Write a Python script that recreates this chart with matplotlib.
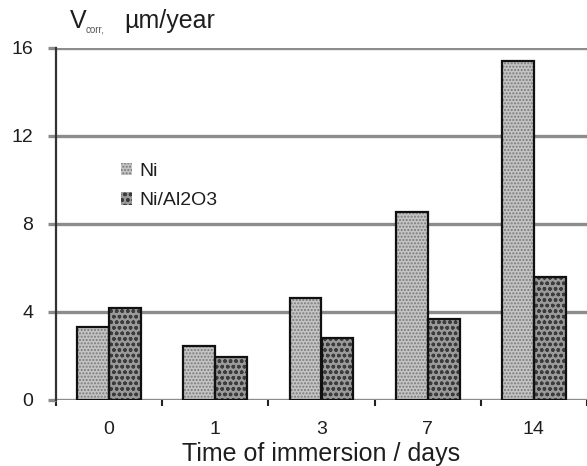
import matplotlib
matplotlib.use("Agg")
import matplotlib.pyplot as plt
from matplotlib.patches import Patch
import numpy as np

plt.rcParams['font.family'] = ['Liberation Sans', 'DejaVu Sans']

categories = ["0", "1", "3", "7", "14"]
ni = [3.3, 2.45, 4.65, 8.55, 15.4]
ni_al2o3 = [4.2, 1.95, 2.8, 3.7, 5.6]
yticks = [0, 4, 8, 12, 16]

W, H = 587, 466
fig = plt.figure(figsize=(W / 100, H / 100), dpi=100)
ax = fig.add_axes([56 / W, 1 - 400 / H, 1 - 56 / W, (400 - 48) / H])

x = np.arange(len(categories))
bw = 0.3
grid_c = '#8c8c8c'
txt_c = '#1e1e1e'

for yv in yticks:
    ax.axhline(yv, color=grid_c, lw=2.4, zorder=1)

styles = [
    (ni, -bw / 2, '#c4c4c4', '#7a7a7a', '.....', 'Ni'),
    (ni_al2o3, bw / 2, '#9a9a9a', '#3c3c3c', 'ooo', 'Ni/Al2O3'),
]
handles = []
for vals, off, fc, hc, hatch, lab in styles:
    ax.bar(x + off, vals, bw, color=fc, edgecolor=hc, hatch=hatch, lw=0, zorder=2)
    ax.bar(x + off, vals, bw, fill=False, edgecolor='#111111', lw=1.6, zorder=3)
    handles.append(Patch(facecolor=fc, edgecolor=hc, hatch=hatch, lw=0, label=lab))

ax.set_xlim(-0.5, -0.5 + (W - 56) / 107.6)
ax.set_ylim(0, 16)
for s in ['top', 'right', 'bottom']:
    ax.spines[s].set_visible(False)
ax.spines['left'].set_color('#333333')
ax.spines['left'].set_linewidth(1.6)
ax.spines['left'].set_zorder(4)

ax.set_yticks(yticks)
ax.set_yticklabels([str(v) for v in yticks], fontsize=14, color=txt_c)
ax.tick_params(axis='y', length=5.5, width=2.4, color=grid_c, pad=11)

ax.set_xticks(x)
ax.set_xticklabels(categories, fontsize=14, color=txt_c)
ax.tick_params(axis='x', length=0, pad=15)
ax.set_xticks(np.arange(-0.5, 4.6, 1.0), minor=True)
ax.tick_params(axis='x', which='minor', length=4, width=1.5, color='#222222', direction='out')

ax.set_xlabel("Time of immersion / days", fontsize=18, color=txt_c, labelpad=3)

fig.text(70 / W, 1 - 21 / H, "V", fontsize=18, va='center', ha='left', color=txt_c)
fig.text(86 / W, 1 - 30 / H, "corr,", fontsize=7, va='center', ha='left', color='#555555')
fig.text(124 / W, 1 - 21 / H, "µm/year", fontsize=18, va='center', ha='left', color=txt_c)

leg = ax.legend(handles=handles, loc='upper left',
                bbox_to_anchor=((113 - 56) / (W - 56), 1 - (155 - 48) / 352),
                frameon=False, fontsize=14, handlelength=0.6, handleheight=0.6,
                handletextpad=0.35, labelspacing=0.65, borderaxespad=0)
for t in leg.get_texts():
    t.set_color(txt_c)

fig.savefig("out.png", dpi=100)
